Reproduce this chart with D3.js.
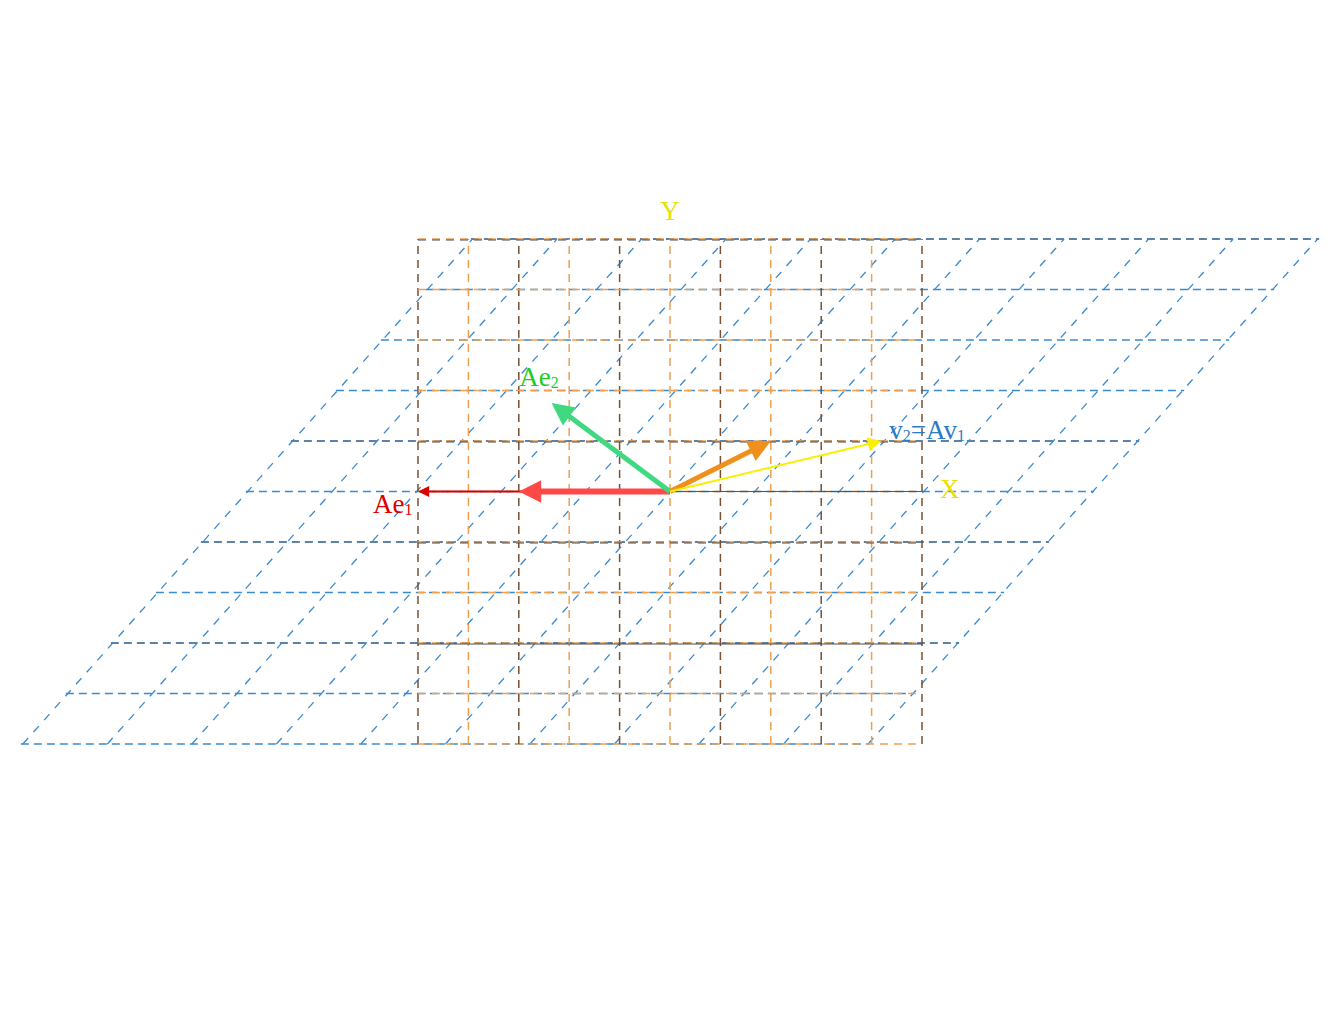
<!DOCTYPE html>
<html><head><meta charset="utf-8">
<script src="https://cdn.jsdelivr.net/npm/d3@7"></script>
<style>body{margin:0;background:#fff}</style>
</head><body>
<script>
// grid ticks (data units)
const gridTicks = d3.range(-5, 6)
const darkVertical = [-5, -3, -1, 1, 3, 5]
const darkHorizontal = [5, 1, -1, -3]
// sheared grid: ends of horizontal lines at v=-5 and v=5, diagonal feet
const shearLeft = [-12.88, -3.95]
const shearRight = [3.95, 12.88]
const diagBottom = -12.84, diagTop = -3.92, diagStep = 1.677
const arrows = [
  { name: 'e1thin', to: [-5, 0], color: '#dd0000', w: 2, head: 8 },
  { name: 'Ae1', to: [-3, 0], color: '#ff4848', w: 6, head: 16 },
  { name: 'Ae2', to: [-2.35, 1.75], color: '#40d880', w: 5, head: 16 },
  { name: 'v1', to: [2, 1], color: '#f0901c', w: 5, head: 16 },
  { name: 'v2', to: [4.2, 1], color: '#f8f000', w: 2, head: 10 }
]
const labels = [
  { t: 'Y', at: [0, 5.5], color: '#e8e000' },
  { t: 'X', at: [5.55, 0], color: '#e8e000' },
  { t: 'Ae', sub: '1', at: [-5.5, -0.3], color: '#dd0000' },
  { t: 'Ae', sub: '2', at: [-2.6, 2.2], color: '#22cc22' },
  { t: 'v', sub: '2', t2: '=Av', sub2: '1', at: [5.1, 1.15], color: '#2a7ac8' }
]

const W = 1336, H = 1018
const x = d3.scaleLinear().domain([-5, 5]).range([418, 922])
const y = d3.scaleLinear().domain([-5, 5]).range([744, 239])
const svg = d3.select('body').append('svg').attr('width', W).attr('height', H)
const lerp = (a, b, t) => a + (b - a) * t

// sheared blue grid
gridTicks.forEach(v => {
  const t = (v + 5) / 10
  svg.append('line')
    .attr('x1', x(lerp(shearLeft[0], shearLeft[1], t))).attr('x2', x(lerp(shearRight[0], shearRight[1], t)))
    .attr('y1', y(v)).attr('y2', y(v))
    .attr('stroke', darkHorizontal.includes(v) ? '#2a5a88' : '#3a8ad0').attr('stroke-width', 1.5)
    .attr('stroke-dasharray', '8,5')
})
gridTicks.forEach((u, i) => {
  svg.append('line')
    .attr('x1', x(diagBottom + i * diagStep)).attr('y1', y(-5))
    .attr('x2', x(diagTop + i * diagStep)).attr('y2', y(5))
    .attr('stroke', '#3a8ad0').attr('stroke-width', 1.3).attr('stroke-dasharray', '8,8')
})
// orange grid
gridTicks.forEach(v => {
  svg.append('line').attr('x1', x(v)).attr('x2', x(v)).attr('y1', y(-5)).attr('y2', y(5))
    .attr('stroke', darkVertical.includes(v) ? '#7a5030' : '#f0a050').attr('stroke-width', 1.5)
    .attr('stroke-dasharray', '8,6')
  svg.append('line').attr('x1', x(-5)).attr('x2', x(5)).attr('y1', y(v)).attr('y2', y(v))
    .attr('stroke', '#f0a050').attr('stroke-width', 1.5).attr('stroke-dasharray', '8,6')
})
darkHorizontal.forEach(v => {
  svg.append('line').attr('x1', x(-5)).attr('x2', x(5)).attr('y1', y(v) + 1).attr('y2', y(v) + 1)
    .attr('stroke', '#4a4a4a').attr('stroke-width', 1).attr('stroke-dasharray', v === -3 ? null : '8,6')
})
svg.append('line').attr('x1', x(0)).attr('x2', x(5)).attr('y1', y(0)).attr('y2', y(0))
  .attr('stroke', '#555').attr('stroke-width', 1)

// arrows
arrows.forEach(a => {
  const x0 = x(0), y0 = y(0), x1 = x(a.to[0]), y1 = y(a.to[1])
  const ang = Math.atan2(y1 - y0, x1 - x0), L = Math.hypot(x1 - x0, y1 - y0)
  const g = svg.append('g').attr('transform', `translate(${x0},${y0}) rotate(${ang * 180 / Math.PI})`)
  g.append('line').attr('x1', 0).attr('x2', L - a.head * 0.9).attr('y1', 0).attr('y2', 0)
    .attr('stroke', a.color).attr('stroke-width', a.w)
  g.append('path').attr('d', `M${L},0L${L - a.head * 1.4},${-a.head * 0.7}L${L - a.head * 1.4},${a.head * 0.7}Z`)
    .attr('fill', a.color)
})

// labels
labels.forEach(l => {
  const t = svg.append('text').attr('x', x(l.at[0])).attr('y', y(l.at[1]))
    .attr('fill', l.color).attr('font-family', 'Liberation Serif, DejaVu Serif, serif')
    .attr('font-size', 27).attr('text-anchor', 'middle').attr('dominant-baseline', 'middle')
  t.append('tspan').text(l.t)
  if (l.sub) t.append('tspan').attr('font-size', 16).attr('dy', 4).text(l.sub)
  if (l.t2) t.append('tspan').attr('dy', -4).text(l.t2)
  if (l.sub2) t.append('tspan').attr('font-size', 16).attr('dy', 4).text(l.sub2)
})
</script>
</body></html>
